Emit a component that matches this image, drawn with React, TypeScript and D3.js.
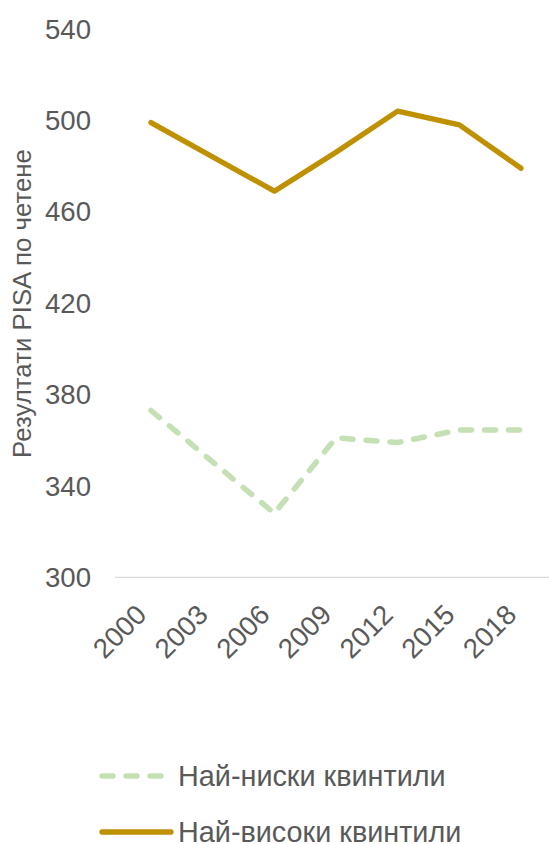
import React from "react";
import * as d3 from "d3";

const years = ["2000", "2003", "2006", "2009", "2012", "2015", "2018"];
const lowest: (number | null)[] = [373, null, 328, 361, 359, 364.5, 364.5];
const highest: (number | null)[] = [499, null, 469, 486, 504, 498, 479];
const yTicks = [300, 340, 380, 420, 460, 500, 540];
const seriesNames = ["Най-ниски квинтили", "Най-високи квинтили"];
const yTitle = "Резултати PISA по четене";

const W = 549;
const H = 844;
const FONT = "'Liberation Sans', Arial, sans-serif";
const TEXT = "#595959";
const GOLD = "#BF9000";
const GREEN = "#C5E0B4";

export default function App() {
  const x = d3.scalePoint<string>().domain(years).range([151, 521]);
  const y = d3.scaleLinear().domain([300, 540]).range([577.3, 28.9]);

  const mk = (vals: (number | null)[]) => {
    const pts = years
      .map((yr, i) => ({ yr, v: vals[i] }))
      .filter((d) => d.v !== null) as { yr: string; v: number }[];
    return d3
      .line<{ yr: string; v: number }>()
      .x((d) => x(d.yr) as number)
      .y((d) => y(d.v))(pts) as string;
  };

  return (
    <svg
      width={W}
      height={H}
      style={{ position: "absolute", left: 0, top: 0, background: "#fff" }}
      fontFamily={FONT}
    >
      {yTicks.map((t) => (
        <text
          key={t}
          x={91}
          y={y(t)}
          dy="0.35em"
          textAnchor="end"
          fontSize={27.6}
          fill={TEXT}
        >
          {t}
        </text>
      ))}
      <text
        transform={`translate(31,303.5) rotate(-90)`}
        textAnchor="middle"
        fontSize={25.8}
        fill={TEXT}
      >
        {yTitle}
      </text>
      <line x1={115} x2={549} y1={y(300)} y2={y(300)} stroke="#D9D9D9" strokeWidth={1.3} />
      {years.map((yr) => (
        <text
          key={yr}
          transform={`translate(${(x(yr) as number) - 3},616.5) rotate(-45)`}
          textAnchor="end"
          fontSize={27.6}
          fill={TEXT}
        >
          {yr}
        </text>
      ))}
      <path
        d={mk(lowest)}
        fill="none"
        stroke={GREEN}
        strokeWidth={5.5}
        strokeDasharray="11 13"
        strokeLinecap="round"
        strokeLinejoin="round"
      />
      <path
        d={mk(highest)}
        fill="none"
        stroke={GOLD}
        strokeWidth={5.3}
        strokeLinecap="round"
        strokeLinejoin="round"
      />
      <line
        x1={102}
        x2={166}
        y1={776}
        y2={776}
        stroke={GREEN}
        strokeWidth={5.5}
        strokeDasharray="11 13"
        strokeLinecap="round"
      />
      <text x={178} y={776} dy="0.35em" fontSize={28.8} fill={TEXT}>
        {seriesNames[0]}
      </text>
      <line
        x1={102}
        x2={171}
        y1={832}
        y2={832}
        stroke={GOLD}
        strokeWidth={5.3}
        strokeLinecap="round"
      />
      <text x={178} y={832} dy="0.35em" fontSize={28.8} fill={TEXT}>
        {seriesNames[1]}
      </text>
    </svg>
  );
}
